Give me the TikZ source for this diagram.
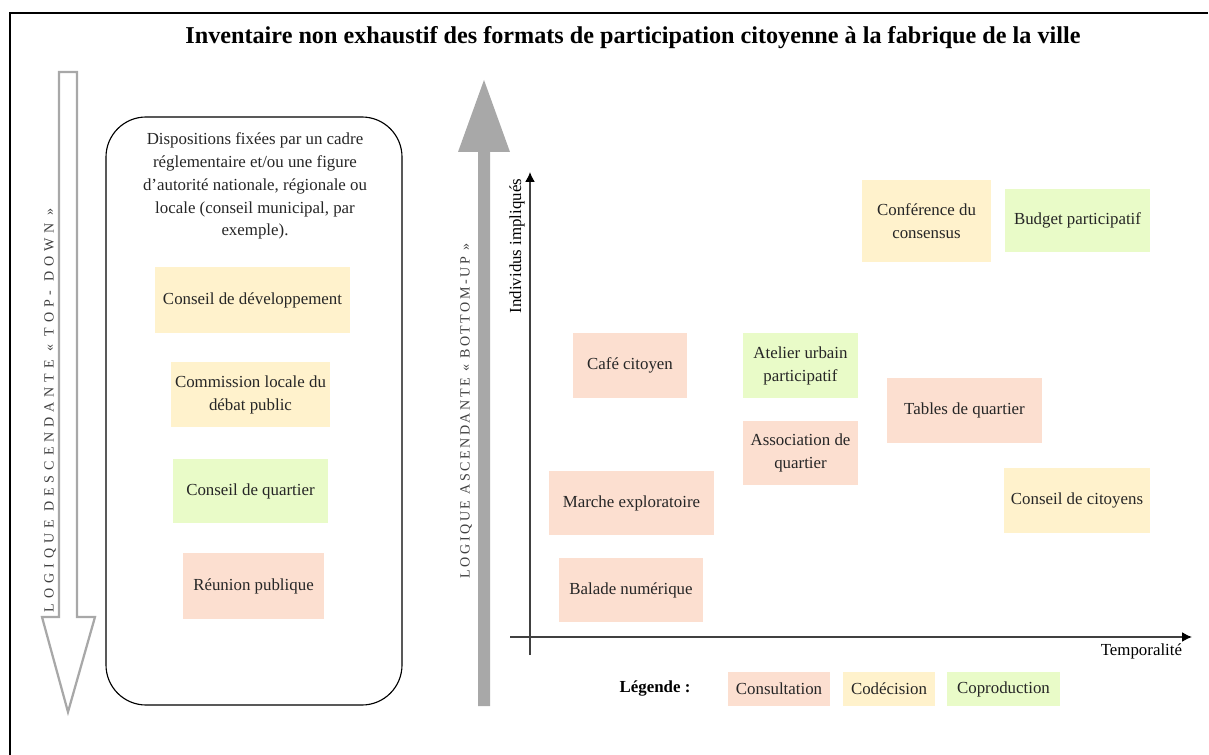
\documentclass[tikz,border=0pt]{standalone}
\usepackage{fontspec}
\setmainfont{Liberation Serif}
\usetikzlibrary{arrows.meta}
\definecolor{consultation}{RGB}{252,223,208}
\definecolor{codecision}{RGB}{255,242,204}
\definecolor{coproduction}{RGB}{233,251,200}
\definecolor{flechegris}{RGB}{168,168,168}
\tikzset{
  consult/.style={fill=consultation},
  codec/.style={fill=codecision},
  coprod/.style={fill=coproduction},
  etiquette/.style={font=\fontsize{12}{16.3}\selectfont, align=center, text=black!85},
  logique/.style={rotate=90, text=black!75, font=\fontsize{10}{12}\selectfont\addfontfeatures{LetterSpace=#1}},
}
\begin{document}
\begin{tikzpicture}[x=0.025cm, y=-0.025cm]
  \useasboundingbox (0,0) rectangle (1209,755);
  \draw[line width=1.8pt] (1208,13) -- (10,13) -- (10,755); % Cadre
  \node[font=\bfseries\fontsize{17.2}{20}\selectfont] (titre) at (633,38) {Inventaire non exhaustif des formats de participation citoyenne à la fabrique de la ville};
  % Logique descendante
  \draw[flechegris, line width=1.6pt, fill=white] (59,72) -- (77,72) -- (77,617) -- (95,617) -- (68,712) -- (42,617) -- (59,617) -- cycle; % Fleche creuse
  \node[logique=35] (descend) at (50,410) {LOGIQUE DESCENDANTE « TOP- DOWN »};
  \draw[thick, rounded corners=1cm] (106,117) rectangle (402,705); % Cadre arrondi
  \node[etiquette] (dispo) at (255,186) {Dispositions fixées par un cadre\\réglementaire et/ou une figure\\d'autorité nationale, régionale ou\\locale (conseil municipal, par\\exemple).};
  \fill[codec] (155,267) rectangle (350,333) node[pos=0.5,etiquette] (devel) {Conseil de développement};
  \fill[codec] (171,362) rectangle (330,427) node[pos=0.5,etiquette] (cndp) {Commission locale du\\débat public};
  \fill[coprod] (173,459) rectangle (328,523) node[pos=0.5,etiquette] (cquartier) {Conseil de quartier};
  \fill[consult] (183,553) rectangle (324,619) node[pos=0.5,etiquette] (reunion) {Réunion publique};
  % Logique ascendante
  \fill[flechegris] (478,706) -- (478,152) -- (458,152) -- (484,80) -- (510,152) -- (490,152) -- (490,706) -- cycle; % Fleche pleine
  \node[logique=18] (ascend) at (466,411) {LOGIQUE ASCENDANTE « BOTTOM-UP »};
  % Axes
  \coordinate (origx) at (510,637);
  \coordinate (finx) at (1192,637);
  \coordinate (origy) at (530,655);
  \coordinate (finy) at (530,172);
  \draw[black!75, line width=1.1pt, -{Latex[length=7pt,width=7pt,black]}] (origx) -- (finx);
  \draw[black!75, line width=1.1pt, -{Latex[length=7pt,width=7pt,black]}] (origy) -- (finy);
  \node[rotate=90, font=\fontsize{12}{14}\selectfont] (indiv) at (517,246) {Individus impliqués};
  \node[font=\fontsize{12}{14}\selectfont, anchor=east] (temps) at (1187,651) {Temporalité};
  % Formats
  \fill[codec] (862,180) rectangle (991,262) node[pos=0.5,etiquette] (confer) {Conférence du\\consensus};
  \fill[coprod] (1005,189) rectangle (1150,252) node[pos=0.5,etiquette] (budget) {Budget participatif};
  \fill[consult] (573,333) rectangle (687,398) node[pos=0.5,etiquette] (cafe) {Café citoyen};
  \fill[coprod] (743,333) rectangle (858,398) node[pos=0.5,etiquette] (atelier) {Atelier urbain\\participatif};
  \fill[consult] (887,378) rectangle (1042,443) node[pos=0.5,etiquette] (tables) {Tables de quartier};
  \fill[consult] (743,421) rectangle (858,485) node[pos=0.5,etiquette] (asso) {Association de\\quartier};
  \fill[consult] (549,471) rectangle (714,535) node[pos=0.5,etiquette] (marche) {Marche exploratoire};
  \fill[codec] (1004,468) rectangle (1150,533) node[pos=0.5,etiquette] (ccitoyens) {Conseil de citoyens};
  \fill[consult] (559,558) rectangle (703,622) node[pos=0.5,etiquette] (balade) {Balade numérique};
  % Legende
  \node[font=\bfseries\fontsize{12}{14}\selectfont] (legende) at (655,688) {Légende :};
  \fill[consult] (728,672) rectangle (830,706) node[pos=0.5,etiquette] (lconsult) {Consultation};
  \fill[codec] (843,672) rectangle (935,706) node[pos=0.5,etiquette] (lcodec) {Codécision};
  \fill[coprod] (947,672) rectangle (1060,706) node[pos=0.5,etiquette] (lcoprod) {Coproduction};
\end{tikzpicture}
\end{document}
